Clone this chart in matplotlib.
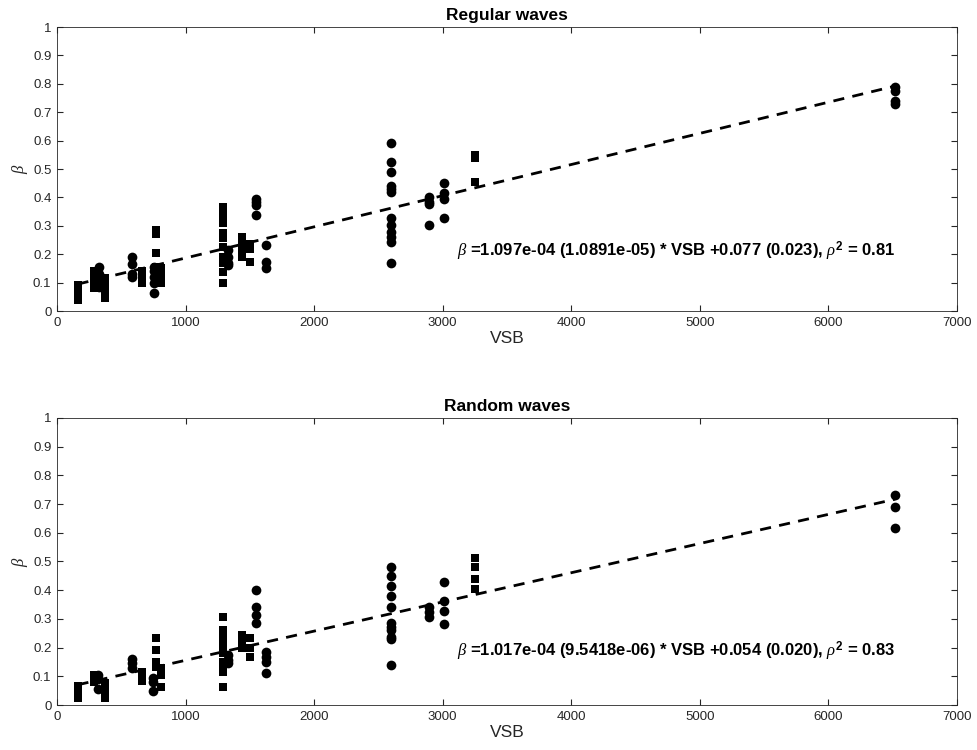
import numpy as np
import matplotlib
matplotlib.use('Agg')
import matplotlib.pyplot as plt

plt.rcParams['font.family'] = ['Liberation Sans', 'DejaVu Sans']
plt.rcParams['mathtext.fontset'] = 'custom'
plt.rcParams['mathtext.it'] = 'Liberation Serif:italic'
plt.rcParams['mathtext.bf'] = 'Liberation Sans:bold'

# ---- Regular waves: squares and circles (VSB, beta) ----
reg_sq_x = [160, 160, 160,
            285, 285, 285, 285,
            373, 373, 373, 373,
            660, 660, 660,
            770, 770, 770, 770, 770, 770,
            812, 812, 812,
            1295, 1295, 1295, 1295, 1295, 1295, 1295, 1295, 1295, 1295,
            1436, 1436, 1436, 1436,
            1500, 1500, 1500,
            3255, 3255, 3255]
reg_sq_y = [0.04, 0.065, 0.09,
            0.08, 0.10, 0.12, 0.14,
            0.045, 0.07, 0.09, 0.115,
            0.10, 0.12, 0.14,
            0.285, 0.27, 0.205, 0.155, 0.13, 0.10,
            0.10, 0.125, 0.15,
            0.367, 0.338, 0.309, 0.274, 0.256, 0.226, 0.19, 0.168, 0.138, 0.098,
            0.19, 0.21, 0.24, 0.26,
            0.174, 0.22, 0.235,
            0.549, 0.538, 0.455]
reg_ci_x = [325, 325, 325, 325,
            580, 580, 580, 580,
            755, 755, 755, 755, 755,
            1331, 1331, 1331, 1331,
            1548, 1548, 1548, 1548,
            1626, 1626, 1626,
            2595, 2595, 2595, 2595, 2595, 2595, 2595, 2595, 2595, 2595, 2595, 2595,
            2891, 2891, 2891, 2891,
            3010, 3010, 3010, 3010,
            6520, 6520, 6520, 6520]
reg_ci_y = [0.155, 0.13, 0.10, 0.085,
            0.19, 0.165, 0.13, 0.12,
            0.065, 0.10, 0.12, 0.14, 0.155,
            0.215, 0.19, 0.17, 0.162,
            0.395, 0.385, 0.373, 0.338,
            0.232, 0.174, 0.15,
            0.59, 0.526, 0.49, 0.44, 0.43, 0.42, 0.326, 0.303, 0.279, 0.262, 0.244, 0.168,
            0.402, 0.385, 0.377, 0.303,
            0.452, 0.414, 0.394, 0.326,
            0.79, 0.775, 0.74, 0.73]

# ---- Random waves ----
ran_sq_x = [160, 160, 160,
            285, 285, 285,
            373, 373, 373,
            660, 660, 660,
            770, 770, 770, 770,
            806, 806, 806,
            1295, 1295, 1295, 1295, 1295, 1295, 1295, 1295, 1295, 1295,
            1436, 1436, 1436,
            1500, 1500, 1500,
            3255, 3255, 3255, 3255]
ran_sq_y = [0.023, 0.045, 0.065,
            0.08, 0.095, 0.105,
            0.023, 0.052, 0.076,
            0.085, 0.10, 0.115,
            0.232, 0.192, 0.151, 0.133,
            0.064, 0.105, 0.129,
            0.308, 0.261, 0.238, 0.22, 0.203, 0.18, 0.15, 0.133, 0.116, 0.064,
            0.20, 0.22, 0.244,
            0.168, 0.198, 0.232,
            0.511, 0.482, 0.438, 0.403]
ran_ci_x = [321, 321, 321,
            581, 581, 581,
            749, 749, 749,
            1331, 1331, 1331,
            1548, 1548, 1548, 1548,
            1626, 1626, 1626, 1626,
            2595, 2595, 2595, 2595, 2595, 2595, 2595, 2595, 2595, 2595, 2595,
            2891, 2891, 2891,
            3010, 3010, 3010, 3010,
            6520, 6520, 6520]
ran_ci_y = [0.104, 0.09, 0.055,
            0.16, 0.145, 0.13,
            0.093, 0.081, 0.049,
            0.174, 0.157, 0.145,
            0.40, 0.343, 0.314, 0.285,
            0.186, 0.168, 0.151, 0.11,
            0.482, 0.449, 0.416, 0.381, 0.343, 0.285, 0.273, 0.261, 0.238, 0.23, 0.139,
            0.343, 0.325, 0.308,
            0.427, 0.362, 0.327, 0.281,
            0.73, 0.69, 0.615]

# fit coefficients (slope, intercept) as printed on the chart
reg_fit = (1.097e-04, 0.077)
ran_fit = (1.017e-04, 0.054)
reg_label = r'$\mathit{\beta}$ =1.097e-04 (1.0891e-05) * VSB +0.077 (0.023), $\mathit{\rho}^\mathbf{2}$ = 0.81'
ran_label = r'$\mathit{\beta}$ =1.017e-04 (9.5418e-06) * VSB +0.054 (0.020), $\mathit{\rho}^\mathbf{2}$ = 0.83'

fig = plt.figure(figsize=(9.77, 7.5), dpi=100)
ax1 = fig.add_axes([0.0583, 0.5853, 0.9212, 0.3787])
ax2 = fig.add_axes([0.0583, 0.06, 0.9212, 0.3827])

panels = [
    (ax1, 'Regular waves', reg_sq_x, reg_sq_y, reg_ci_x, reg_ci_y, reg_fit, reg_label, 0.21),
    (ax2, 'Random waves', ran_sq_x, ran_sq_y, ran_ci_x, ran_ci_y, ran_fit, ran_label, 0.188),
]

axcol = '#262626'
for ax, title, sx, sy, cx, cy, fit, label, ty in panels:
    ax.plot(sx, sy, 's', color='k', markersize=6, markeredgewidth=0)
    ax.plot(cx, cy, 'o', color='k', markersize=7, markeredgewidth=0)
    allx = np.array(sx + cx)
    xl = np.array([allx.min(), allx.max()])
    ax.plot(xl, fit[0] * xl + fit[1], '--', color='k', linewidth=2, dashes=(4, 3))
    ax.text(3110, ty, label, fontsize=12, fontweight='bold', va='center')
    ax.set_xlim(0, 7000)
    ax.set_ylim(0, 1)
    ax.set_xticks(np.arange(0, 7001, 1000))
    ax.set_yticks(np.arange(0, 1.01, 0.1))
    ax.set_yticklabels(['0'] + ['%.1f' % v for v in np.arange(0.1, 0.95, 0.1)] + ['1'])
    ax.tick_params(direction='in', top=True, right=True, length=4, labelsize=9.5,
                   color=axcol, labelcolor=axcol, pad=4)
    for s in ax.spines.values():
        s.set_color(axcol)
        s.set_linewidth(0.6)
    ax.set_title(title, fontsize=12.5, fontweight='bold', pad=5)
    ax.set_xlabel('VSB', fontsize=12.5, color=axcol, labelpad=2)
    ax.set_ylabel(r'$\mathit{\beta}$', fontsize=12, color=axcol, labelpad=2)

fig.savefig('out.png', dpi=100)
